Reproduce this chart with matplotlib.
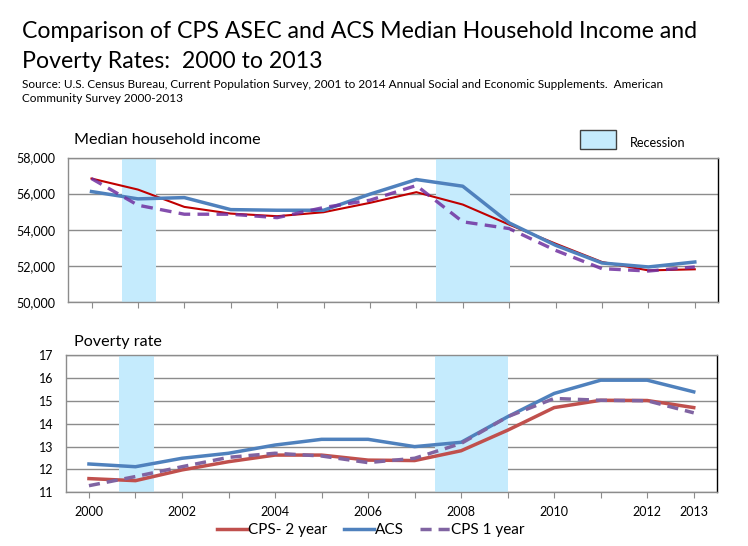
import matplotlib
matplotlib.use("Agg")
import matplotlib.pyplot as plt
from matplotlib.patches import Rectangle

years = list(range(2000, 2014))
tick_labels = ["2000", "", "2002", "", "2004", "", "2006", "", "2008", "", "2010", "", "2012", "2013"]

income_cps2 = [56835, 56225, 55265, 54895, 54750, 54970, 55490, 56080, 55395, 54285, 53230, 52215, 51750, 51810]
income_acs = [56115, 55710, 55780, 55115, 55080, 55080, 55970, 56780, 56410, 54380, 53140, 52160, 51940, 52215]
income_cps1 = [56835, 55360, 54860, 54860, 54670, 55230, 55635, 56450, 54440, 54065, 52860, 51845, 51715, 51940]

pov_cps2 = [11.60, 11.51, 11.98, 12.34, 12.63, 12.63, 12.41, 12.39, 12.82, 13.72, 14.71, 15.03, 15.02, 14.71]
pov_acs = [12.24, 12.12, 12.49, 12.71, 13.07, 13.32, 13.32, 13.00, 13.19, 14.31, 15.33, 15.91, 15.91, 15.40]
pov_cps1 = [11.29, 11.69, 12.12, 12.53, 12.71, 12.59, 12.30, 12.49, 13.14, 14.31, 15.11, 15.03, 15.01, 14.48]

recessions = [(0.65, 1.39), (7.43, 9.01)]

FONT = ["Lato", "DejaVu Sans"]
plt.rcParams['font.family'] = FONT

W, H = 748, 546
fig = plt.figure(figsize=(W / 100, H / 100), dpi=100)

def ax_rect(l, t, r, b):
    return [l / W, 1 - b / H, (r - l) / W, (b - t) / H]

x = list(range(len(years)))
rec_color = "#C5EBFD"
grid_color = "#8C8C8C"

def style(ax):
    for s in ax.spines.values():
        s.set_color(grid_color)
        s.set_linewidth(1.0)
    ax.spines['right'].set_color("black")
    ax.set_xlim(-0.5, 13.5)
    ax.tick_params(axis='x', direction='out', length=4, color=grid_color, labelsize=9)
    ax.tick_params(axis='y', length=0, labelsize=9, pad=9)
    ax.set_xticks(x)
    ax.yaxis.grid(True, color=grid_color, linewidth=1.0)
    ax.set_axisbelow(True)

# Top panel
ax1 = fig.add_axes(ax_rect(68.3, 157.5, 718, 302))
style(ax1)
for a, b in recessions:
    ax1.axvspan(a, b, color=rec_color, zorder=1, lw=0)
ax1.plot(x, income_cps2, color="#C00000", lw=1.5, zorder=3)
ax1.plot(x, income_acs, color="#4F81BD", lw=2.5, zorder=3)
ax1.plot(x, income_cps1, color="#7030A0", lw=2.4, ls=(0, (3.5, 2.2)), zorder=4, alpha=0.85)
ax1.set_ylim(50000, 58000)
ax1.set_yticks([50000, 52000, 54000, 56000, 58000])
ax1.set_yticklabels([f"{v:,}" for v in [50000, 52000, 54000, 56000, 58000]])
ax1.set_xticklabels([])

# Bottom panel
ax2 = fig.add_axes(ax_rect(65.7, 355.3, 717, 492.3))
style(ax2)
for a, b in recessions:
    ax2.axvspan(a, b, color=rec_color, zorder=1, lw=0)
l1, = ax2.plot(x, pov_cps2, color="#C0504D", lw=2.5, zorder=3, label="CPS- 2 year")
l2, = ax2.plot(x, pov_acs, color="#4F81BD", lw=2.5, zorder=3, label="ACS")
l3, = ax2.plot(x, pov_cps1, color="#8064A2", lw=2.5, ls=(0, (3.2, 2.0)), zorder=4, label="CPS 1 year")
ax2.set_ylim(11, 17)
ax2.set_yticks(range(11, 18))
ax2.set_xticklabels(tick_labels)
ax2.tick_params(axis='x', pad=6)

fig.legend(handles=[l1, l2, l3], loc='center', bbox_to_anchor=(371 / W, 1 - 530 / H),
           ncol=3, frameon=False, fontsize=11, handlelength=2.0, handletextpad=0.05,
           columnspacing=1.05, borderpad=0, borderaxespad=0)

# Titles
fig.text(22 / W, 1 - 31 / H, "Comparison of CPS ASEC and ACS Median Household Income and",
         fontsize=16.7, va='center', ha='left')
fig.text(22 / W, 1 - 62 / H, "Poverty Rates:  2000 to 2013", fontsize=16.7, va='center', ha='left')
fig.text(22 / W, 1 - 84 / H,
         "Source: U.S. Census Bureau, Current Population Survey, 2001 to 2014 Annual Social and Economic Supplements.  American",
         fontsize=8.5, va='center', ha='left')
fig.text(22 / W, 1 - 99 / H, "Community Survey 2000-2013", fontsize=8.5, va='center', ha='left')

fig.text(74 / W, 1 - 140 / H, "Median household income", fontsize=11.6, va='center', ha='left')
fig.text(74 / W, 1 - 342 / H, "Poverty rate", fontsize=11.6, va='center', ha='left')

# Recession legend
fig.patches.append(Rectangle((580 / W, 1 - 149 / H), 36 / W, 19 / H, transform=fig.transFigure,
                             facecolor=rec_color, edgecolor="#404040", lw=1.0))
fig.text(630 / W, 1 - 143 / H, "Recession", fontsize=9.2, va='center', ha='left')

fig.savefig("out.png", dpi=100)
